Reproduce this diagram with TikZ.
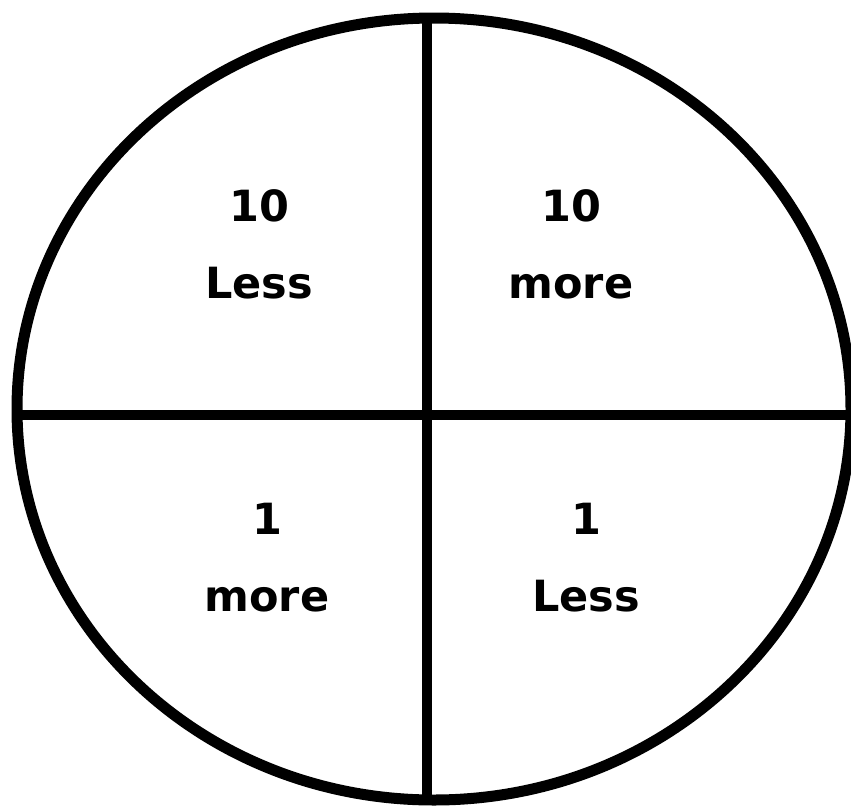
\documentclass[tikz,border=0pt]{standalone}
\usepackage{fontspec}
\setmainfont{DejaVu Sans}
\usepackage{tikz}
\usetikzlibrary{positioning,calc}

\tikzset{
    lbl/.style={font=\bfseries\fontsize{43}{77}\selectfont, align=center},
    rim/.style={line width=11pt}
}

\begin{document}
\begin{tikzpicture}[x=1pt, y=-1pt]
    \useasboundingbox (0,0) rectangle (851,809);

    \draw[rim] (434,409) ellipse [x radius=417, y radius=391];

    \coordinate (top) at (427,18);
    \coordinate (bottom) at (427,800);
    \coordinate (left) at (17,415);
    \coordinate (right) at (851,415);
    \draw[line width=10.5pt] (top) -- (bottom);
    \draw[line width=10.5pt] (left) -- (right);

    \node[lbl] (tl) at (259,244) {10\\Less};
    \node[lbl] (tr) at (571,244) {10\\more};
    \node[lbl] (bl) at (267,558) {1\\more};
    \node[lbl] (br) at (586,558) {1\\Less};
\end{tikzpicture}
\end{document}
